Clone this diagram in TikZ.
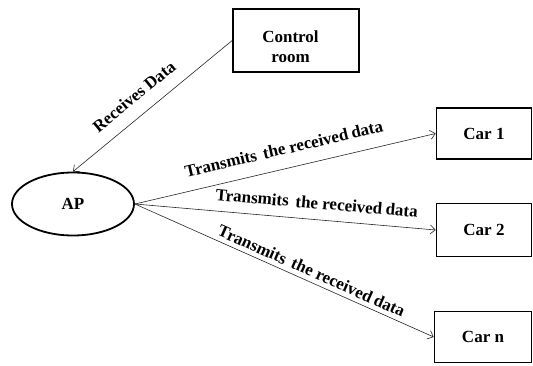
\documentclass[tikz,border=0pt]{standalone}
\usepackage{fontspec}
\setmainfont{Liberation Serif}
\usetikzlibrary{shapes.geometric,arrows.meta}

\newcommand{\txdata}{Transmits\hspace{0.4em}the received\hspace{0.2em}data}

\begin{document}
\begin{tikzpicture}[x=1pt,y=1pt,
  >={Straight Barb[length=5pt,width=9pt,line width=0.6pt]},
  txt/.style={font=\fontsize{17}{20}\selectfont\bfseries},
  box/.style={txt, draw, rectangle, line width=1.6pt, inner sep=0pt},
  apnode/.style={txt, draw, ellipse, line width=1.8pt, inner sep=0pt,
                 minimum width=122pt, minimum height=63pt},
  link/.style={line width=0.6pt, draw=black!85},
  lbl/.style={txt, sloped, inner sep=2pt}]

\useasboundingbox (0,0) rectangle (533,365);

% nodes
\node[box, minimum width=126pt, minimum height=63pt,
      label={[txt, align=center, xshift=-5.5pt, yshift=-5.7pt]center:Control\\room}]
  (ctrl) at (296,324.5) {};
\node[apnode] (ap) at (73,161) {AP};
\node[box, minimum width=95pt, minimum height=51pt] (car1) at (484,231.5) {Car 1};
\node[box, minimum width=95pt, minimum height=53pt] (car2) at (484,135) {Car 2};
\node[box, minimum width=97pt, minimum height=51pt] (carn) at (483,28) {Car n};

% connectors
\draw[link, <-] (ap.north) -- (ctrl.west)
  node[lbl, pos=0.46, above=11pt] {Receives Data};
\draw[link, ->] (ap.east) -- (car1.west)
  node[lbl, pos=0.51, above=11.5pt] {\txdata};
\draw[link, ->] (ap.east) -- (car2.west)
  node[lbl, pos=0.6, above=8.3pt] {\txdata};
\draw[link, ->] (ap.east) -- (carn.west)
  node[lbl, pos=0.577, above=2.5pt] {\txdata};
\end{tikzpicture}
\end{document}
